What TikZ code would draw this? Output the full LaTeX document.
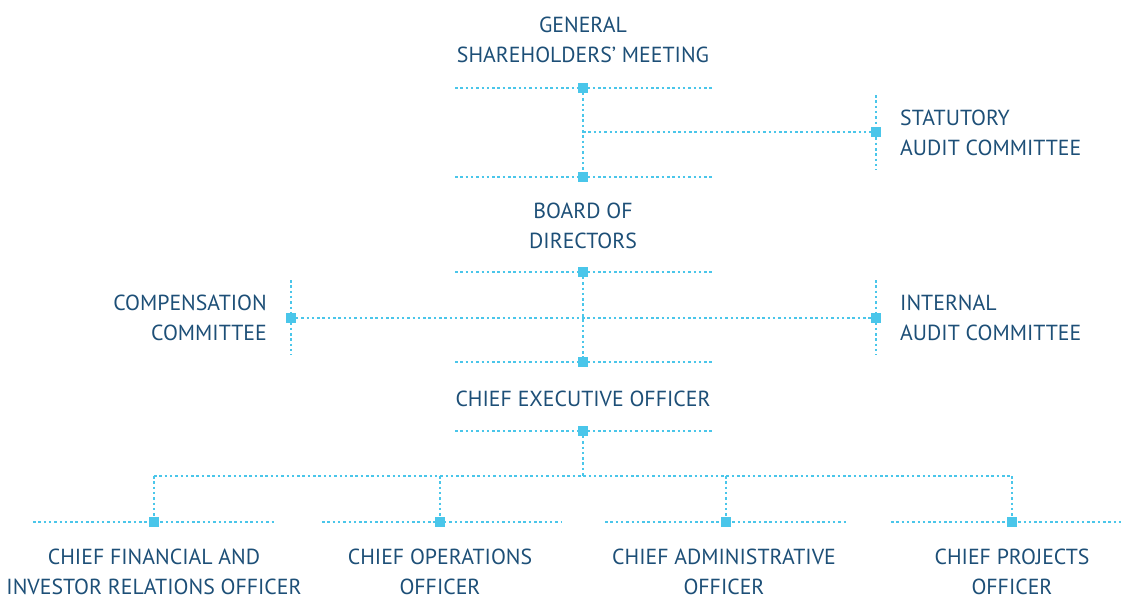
\documentclass[tikz,border=0pt]{standalone}
\usepackage{fontspec}
\setmainfont{PT Sans}
\usetikzlibrary{positioning}
\definecolor{lineblue}{HTML}{4AC6EA}
\definecolor{textblue}{HTML}{1D4F77}
\tikzset{
    %Define standard text style
    font=\fontsize{21.8}{30}\selectfont,
    %Define style for labels
    label box/.style={
           text=textblue,
           inner sep=0pt},
    % Define dotted connector style
    dotline/.style={
           draw=lineblue,
           line width=2.6pt,
           dash pattern=on 2.5pt off 2.8pt},
    % Define style for the small squares
    knot/.style={rectangle,fill=lineblue,inner sep=0pt,minimum size=9.5pt}
}

\begin{document}
\begin{tikzpicture}[x=1pt,y=-1pt]
  \useasboundingbox (0,0) rectangle (1123,598);
  % labels
  \node[label box,align=center] (gsm) at (583,40) {GENERAL\\SHAREHOLDERS’ MEETING};
  \node[label box,align=center] (bod) at (583,225.5) {BOARD OF\\DIRECTORS};
  \node[label box,align=center] (ceo) at (583,399) {CHIEF EXECUTIVE OFFICER};
  \node[label box,align=left,anchor=west] (sac) at (900,133) {STATUTORY\\AUDIT COMMITTEE};
  \node[label box,align=left,anchor=west] (iac) at (900,318) {INTERNAL\\AUDIT COMMITTEE};
  \node[label box,align=right,anchor=east] (cc) at (267,318) {COMPENSATION\\COMMITTEE};
  \node[label box,align=center] (cfo) at (154,571.5) {CHIEF FINANCIAL AND\\INVESTOR RELATIONS OFFICER};
  \node[label box,align=center] (coo) at (440,571.5) {CHIEF OPERATIONS\\OFFICER};
  \node[label box,align=center] (cao) at (724,571.5) {CHIEF ADMINISTRATIVE\\OFFICER};
  \node[label box,align=center] (cpo) at (1012,571.5) {CHIEF PROJECTS\\OFFICER};

  % bar ends
  \coordinate (g1) at (455,88);   \coordinate (g2) at (712,88);
  \coordinate (b1) at (455,177);  \coordinate (b2) at (712,177);
  \coordinate (d1) at (455,272);  \coordinate (d2) at (712,272);
  \coordinate (e1) at (455,362);  \coordinate (e2) at (712,362);
  \coordinate (c1) at (455,431);  \coordinate (c2) at (712,431);
  \coordinate (s1) at (876,95);   \coordinate (s2) at (876,170);
  \coordinate (i1) at (876,280);  \coordinate (i2) at (876,355);
  \coordinate (k1) at (291,280);  \coordinate (k2) at (291,355);
  \coordinate (f1) at (33,522);   \coordinate (f2) at (275,522);
  \coordinate (o1) at (322,522);  \coordinate (o2) at (562,522);
  \coordinate (a1) at (605,522);  \coordinate (a2) at (846,522);
  \coordinate (p1) at (891,522);  \coordinate (p2) at (1123,522);
  \coordinate (fork) at (583,476);

  \foreach \u/\v in {g1/g2,b1/b2,d1/d2,e1/e2,c1/c2,s1/s2,i1/i2,k1/k2,f1/f2,o1/o2,a1/a2,p1/p2}
    \draw[dotline] (\u) -- (\v);

  % squares
  \node[knot] (mg) at (583,88) {};
  \node[knot] (mb) at (583,177) {};
  \node[knot] (md) at (583,272) {};
  \node[knot] (me) at (583,362) {};
  \node[knot] (mc) at (583,431) {};
  \node[knot] (ms) at (876,132) {};
  \node[knot] (mi) at (876,318) {};
  \node[knot] (mk) at (291,318) {};
  \node[knot] (mf) at (154,522) {};
  \node[knot] (mo) at (440,522) {};
  \node[knot] (ma) at (726,522) {};
  \node[knot] (mp) at (1012,522) {};

  % connectors
  \draw[dotline] (mg) -- (mb);
  \draw[dotline] (mg |- ms) -- (ms);
  \draw[dotline] (md) -- (me);
  \draw[dotline] (mk) -- (mi);
  \draw[dotline] (mc) -- (fork);
  \draw[dotline] (mf |- fork) -- (mp |- fork);
  \foreach \m in {mf,mo,ma,mp}
    \draw[dotline] (\m |- fork) -- (\m);
\end{tikzpicture}
\end{document}
